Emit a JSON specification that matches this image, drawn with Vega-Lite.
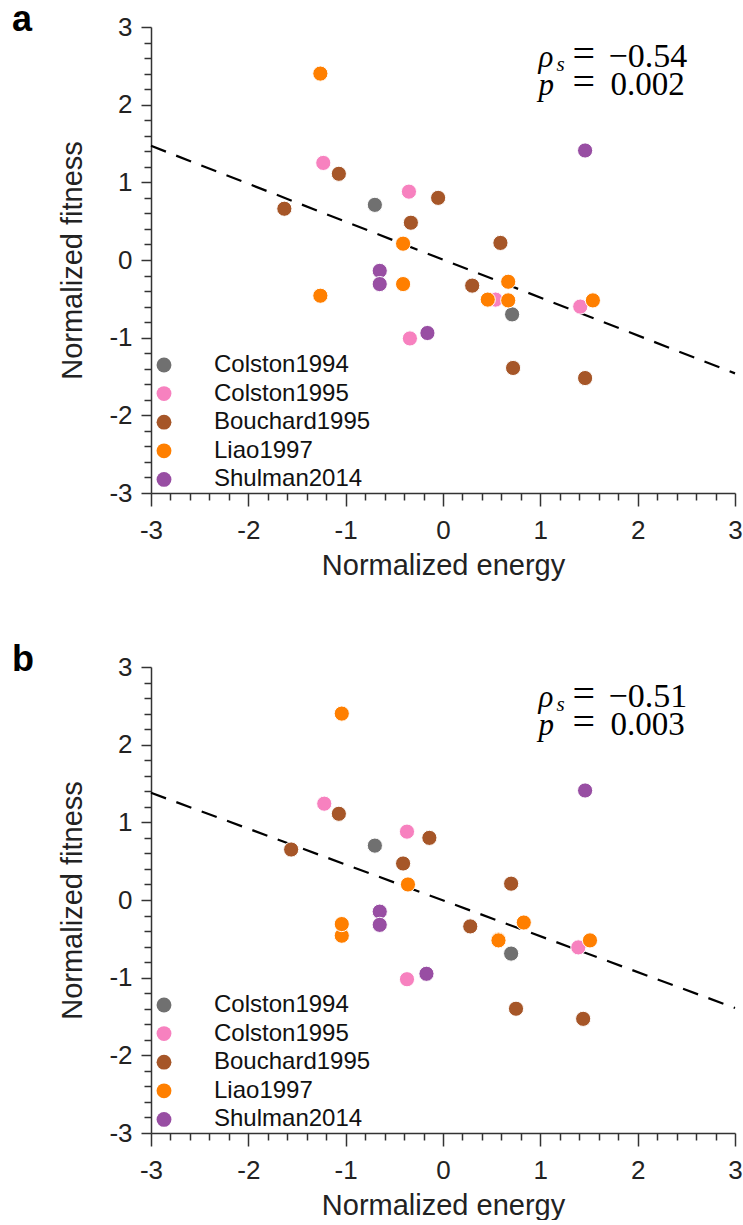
{
  "$schema": "https://vega.github.io/schema/vega-lite/v6.json",
  "background": "white",
  "padding": {"left": 12, "top": 1, "right": 0, "bottom": 0},
  "spacing": 61,
  "config": {
    "view": {"stroke": null},
    "font": "Liberation Sans",
    "axis": {
      "domainColor": "#333333",
      "domainWidth": 1.5,
      "tickColor": "#333333",
      "tickWidth": 1.5,
      "tickSize": 13,
      "grid": false,
      "labelFont": "Liberation Sans",
      "labelFontSize": 26,
      "labelColor": "#222222",
      "titleFont": "Liberation Sans",
      "titleFontSize": 29,
      "titleFontWeight": "normal",
      "titleColor": "#222222",
      "labelFlush": false,
      "labelOverlap": false
    },
    "legend": {
      "labelFont": "Liberation Sans",
      "labelFontSize": 24,
      "labelColor": "#111111",
      "symbolSize": 220,
      "symbolType": "circle",
      "symbolStrokeWidth": 0,
      "rowPadding": 4.6,
      "labelOffset": 38,
      "padding": 0
    },
    "text": {"font": "Liberation Serif", "fontSize": 33, "align": "left", "baseline": "alphabetic", "color": "#000000"}
  },
  "datasets": {
    "pointsA": [
      {"study": "Colston1994", "energy": -0.70, "fitness": 0.71},
      {"study": "Colston1994", "energy": 0.71, "fitness": -0.70},
      {"study": "Colston1995", "energy": -1.23, "fitness": 1.25},
      {"study": "Colston1995", "energy": -0.35, "fitness": 0.88},
      {"study": "Colston1995", "energy": 0.54, "fitness": -0.51},
      {"study": "Colston1995", "energy": 1.41, "fitness": -0.60},
      {"study": "Colston1995", "energy": -0.34, "fitness": -1.01},
      {"study": "Bouchard1995", "energy": -1.63, "fitness": 0.66},
      {"study": "Bouchard1995", "energy": -1.07, "fitness": 1.11},
      {"study": "Bouchard1995", "energy": -0.33, "fitness": 0.48},
      {"study": "Bouchard1995", "energy": -0.05, "fitness": 0.80},
      {"study": "Bouchard1995", "energy": 0.30, "fitness": -0.33},
      {"study": "Bouchard1995", "energy": 0.59, "fitness": 0.22},
      {"study": "Bouchard1995", "energy": 0.72, "fitness": -1.39},
      {"study": "Bouchard1995", "energy": 1.46, "fitness": -1.52},
      {"study": "Liao1997", "energy": -1.26, "fitness": 2.40},
      {"study": "Liao1997", "energy": -1.26, "fitness": -0.46},
      {"study": "Liao1997", "energy": -0.41, "fitness": 0.21},
      {"study": "Liao1997", "energy": -0.41, "fitness": -0.31},
      {"study": "Liao1997", "energy": 0.46, "fitness": -0.51},
      {"study": "Liao1997", "energy": 0.67, "fitness": -0.28},
      {"study": "Liao1997", "energy": 0.67, "fitness": -0.52},
      {"study": "Liao1997", "energy": 1.54, "fitness": -0.52},
      {"study": "Shulman2014", "energy": -0.65, "fitness": -0.14},
      {"study": "Shulman2014", "energy": -0.65, "fitness": -0.31},
      {"study": "Shulman2014", "energy": -0.16, "fitness": -0.94},
      {"study": "Shulman2014", "energy": 1.46, "fitness": 1.41}
    ],
    "pointsB": [
      {"study": "Colston1994", "energy": -0.70, "fitness": 0.70},
      {"study": "Colston1994", "energy": 0.70, "fitness": -0.69},
      {"study": "Colston1995", "energy": -1.22, "fitness": 1.24},
      {"study": "Colston1995", "energy": -0.37, "fitness": 0.88},
      {"study": "Colston1995", "energy": 0.57, "fitness": -0.51},
      {"study": "Colston1995", "energy": 1.39, "fitness": -0.61},
      {"study": "Colston1995", "energy": -0.37, "fitness": -1.02},
      {"study": "Bouchard1995", "energy": -1.56, "fitness": 0.65},
      {"study": "Bouchard1995", "energy": -1.07, "fitness": 1.11},
      {"study": "Bouchard1995", "energy": -0.41, "fitness": 0.47},
      {"study": "Bouchard1995", "energy": -0.14, "fitness": 0.80},
      {"study": "Bouchard1995", "energy": 0.28, "fitness": -0.34},
      {"study": "Bouchard1995", "energy": 0.70, "fitness": 0.21},
      {"study": "Bouchard1995", "energy": 0.75, "fitness": -1.40},
      {"study": "Bouchard1995", "energy": 1.44, "fitness": -1.53},
      {"study": "Liao1997", "energy": -1.04, "fitness": 2.40},
      {"study": "Liao1997", "energy": -1.04, "fitness": -0.46},
      {"study": "Liao1997", "energy": -1.04, "fitness": -0.31},
      {"study": "Liao1997", "energy": -0.36, "fitness": 0.20},
      {"study": "Liao1997", "energy": 0.57, "fitness": -0.51},
      {"study": "Liao1997", "energy": 0.57, "fitness": -0.52},
      {"study": "Liao1997", "energy": 0.83, "fitness": -0.29},
      {"study": "Liao1997", "energy": 1.51, "fitness": -0.52},
      {"study": "Shulman2014", "energy": -0.65, "fitness": -0.15},
      {"study": "Shulman2014", "energy": -0.65, "fitness": -0.32},
      {"study": "Shulman2014", "energy": -0.17, "fitness": -0.95},
      {"study": "Shulman2014", "energy": 1.46, "fitness": 1.41}
    ],
    "fitA": [
      {"energy": -3, "fitness": 1.47},
      {"energy": 3, "fitness": -1.46}
    ],
    "fitB": [
      {"energy": -3, "fitness": 1.38},
      {"energy": 3, "fitness": -1.39}
    ],
    "statsA": [{"rho": "ρ", "sub": "s", "p": "p", "eq": "=", "r": "−0.54", "pv": "0.002"}],
    "statsB": [{"rho": "ρ", "sub": "s", "p": "p", "eq": "=", "r": "−0.51", "pv": "0.003"}]
  },
  "resolve": {"scale": {"color": "independent"}, "legend": {"color": "independent"}},
  "vconcat": [
    {
      "title": {"text": "a", "anchor": "start", "frame": "group", "dx": -139, "fontSize": 36, "fontWeight": "bold", "font": "Liberation Sans", "color": "#000000", "baseline": "alphabetic", "offset": -52.5},
      "width": 584,
      "height": 466,
      "layer": [
        {"data": {"name": "fitA"}, "mark": {"type": "line", "color": "#000000", "strokeWidth": 2.2, "strokeDash": [16, 11]},
          "encoding": {
            "x": {"field": "energy", "type": "quantitative",
              "scale": {"domain": [-3, 3], "nice": false, "zero": false},
              "axis": {"title": "Normalized energy", "titlePadding": 8, "labelPadding": 11,
                "values": [-3, -2.8, -2.6, -2.4, -2.2, -2, -1.8, -1.6, -1.4, -1.2, -1, -0.8, -0.6, -0.4, -0.2, 0, 0.2, 0.4, 0.6, 0.8, 1, 1.2, 1.4, 1.6, 1.8, 2, 2.2, 2.4, 2.6, 2.8, 3],
                "labelExpr": "abs(datum.value - round(datum.value)) < 0.01 ? '' + round(datum.value) : ''",
                "tickSize": {"condition": {"test": "abs(datum.value - round(datum.value)) < 0.01", "value": 13}, "value": 7}}},
            "y": {"field": "fitness", "type": "quantitative",
              "scale": {"domain": [-3, 3], "nice": false, "zero": false},
              "axis": {"title": "Normalized fitness", "titlePadding": 21, "labelPadding": 9,
                "values": [-3, -2.8, -2.6, -2.4, -2.2, -2, -1.8, -1.6, -1.4, -1.2, -1, -0.8, -0.6, -0.4, -0.2, 0, 0.2, 0.4, 0.6, 0.8, 1, 1.2, 1.4, 1.6, 1.8, 2, 2.2, 2.4, 2.6, 2.8, 3],
                "labelExpr": "abs(datum.value - round(datum.value)) < 0.01 ? '' + round(datum.value) : ''",
                "tickSize": {"condition": {"test": "abs(datum.value - round(datum.value)) < 0.01", "value": 10}, "value": 7}}}
          }},
        {"data": {"name": "pointsA"},
          "mark": {"type": "circle", "size": 230, "opacity": 1, "stroke": "white", "strokeWidth": 1},
          "encoding": {
            "x": {"field": "energy", "type": "quantitative",
              "scale": {"domain": [-3, 3], "nice": false, "zero": false},
              "axis": {"title": "Normalized energy", "titlePadding": 8, "labelPadding": 11,
                "values": [-3, -2.8, -2.6, -2.4, -2.2, -2, -1.8, -1.6, -1.4, -1.2, -1, -0.8, -0.6, -0.4, -0.2, 0, 0.2, 0.4, 0.6, 0.8, 1, 1.2, 1.4, 1.6, 1.8, 2, 2.2, 2.4, 2.6, 2.8, 3],
                "labelExpr": "abs(datum.value - round(datum.value)) < 0.01 ? '' + round(datum.value) : ''",
                "tickSize": {"condition": {"test": "abs(datum.value - round(datum.value)) < 0.01", "value": 13}, "value": 7}}},
            "y": {"field": "fitness", "type": "quantitative",
              "scale": {"domain": [-3, 3], "nice": false, "zero": false},
              "axis": {"title": "Normalized fitness", "titlePadding": 21, "labelPadding": 9,
                "values": [-3, -2.8, -2.6, -2.4, -2.2, -2, -1.8, -1.6, -1.4, -1.2, -1, -0.8, -0.6, -0.4, -0.2, 0, 0.2, 0.4, 0.6, 0.8, 1, 1.2, 1.4, 1.6, 1.8, 2, 2.2, 2.4, 2.6, 2.8, 3],
                "labelExpr": "abs(datum.value - round(datum.value)) < 0.01 ? '' + round(datum.value) : ''",
                "tickSize": {"condition": {"test": "abs(datum.value - round(datum.value)) < 0.01", "value": 10}, "value": 7}}},
            "color": {"field": "study", "type": "nominal",
              "scale": {"domain": ["Colston1994", "Colston1995", "Bouchard1995", "Liao1997", "Shulman2014"], "range": ["#707070", "#f781bf", "#a65628", "#ff7f00", "#984ea3"]},
              "legend": {"title": null, "orient": "bottom-left", "offset": 1}}}},
        {"data": {"name": "statsA"},
          "encoding": {
            "x": {"datum": 0.98, "type": "quantitative",
              "scale": {"domain": [-3, 3], "nice": false, "zero": false},
              "axis": {"title": "Normalized energy", "titlePadding": 8, "labelPadding": 11,
                "values": [-3, -2.8, -2.6, -2.4, -2.2, -2, -1.8, -1.6, -1.4, -1.2, -1, -0.8, -0.6, -0.4, -0.2, 0, 0.2, 0.4, 0.6, 0.8, 1, 1.2, 1.4, 1.6, 1.8, 2, 2.2, 2.4, 2.6, 2.8, 3],
                "labelExpr": "abs(datum.value - round(datum.value)) < 0.01 ? '' + round(datum.value) : ''",
                "tickSize": {"condition": {"test": "abs(datum.value - round(datum.value)) < 0.01", "value": 13}, "value": 7}}},
            "y": {"datum": 2.49, "type": "quantitative",
              "scale": {"domain": [-3, 3], "nice": false, "zero": false},
              "axis": {"title": "Normalized fitness", "titlePadding": 21, "labelPadding": 9,
                "values": [-3, -2.8, -2.6, -2.4, -2.2, -2, -1.8, -1.6, -1.4, -1.2, -1, -0.8, -0.6, -0.4, -0.2, 0, 0.2, 0.4, 0.6, 0.8, 1, 1.2, 1.4, 1.6, 1.8, 2, 2.2, 2.4, 2.6, 2.8, 3],
                "labelExpr": "abs(datum.value - round(datum.value)) < 0.01 ? '' + round(datum.value) : ''",
                "tickSize": {"condition": {"test": "abs(datum.value - round(datum.value)) < 0.01", "value": 10}, "value": 7}}}
          },
          "layer": [
            {"mark": {"type": "text", "fontStyle": "italic", "fontSize": 31}, "encoding": {"text": {"field": "rho"}}},
            {"mark": {"type": "text", "fontStyle": "italic", "fontSize": 21}, "encoding": {"x": {"datum": 1.165}, "y": {"datum": 2.43}, "text": {"field": "sub"}}},
            {"mark": {"type": "text", "fontStyle": "italic", "fontSize": 31}, "encoding": {"y": {"datum": 2.125}, "text": {"field": "p"}}},
            {"mark": {"type": "text", "fontSize": 40}, "encoding": {"x": {"datum": 1.33}, "text": {"field": "eq"}}},
            {"mark": {"type": "text", "fontSize": 40}, "encoding": {"x": {"datum": 1.33}, "y": {"datum": 2.125}, "text": {"field": "eq"}}},
            {"mark": {"type": "text", "fontSize": 34}, "encoding": {"x": {"datum": 1.70}, "text": {"field": "r"}}},
            {"mark": {"type": "text"}, "encoding": {"x": {"datum": 1.72}, "y": {"datum": 2.125}, "text": {"field": "pv"}}}
          ]
        }
      ]
    },
    {
      "title": {"text": "b", "anchor": "start", "frame": "group", "dx": -139, "fontSize": 36, "fontWeight": "bold", "font": "Liberation Sans", "color": "#000000", "baseline": "alphabetic", "offset": -52.5},
      "width": 584,
      "height": 466,
      "layer": [
        {"data": {"name": "fitB"}, "mark": {"type": "line", "color": "#000000", "strokeWidth": 2.2, "strokeDash": [16, 11]},
          "encoding": {
            "x": {"field": "energy", "type": "quantitative",
              "scale": {"domain": [-3, 3], "nice": false, "zero": false},
              "axis": {"title": "Normalized energy", "titlePadding": 8, "labelPadding": 11,
                "values": [-3, -2.8, -2.6, -2.4, -2.2, -2, -1.8, -1.6, -1.4, -1.2, -1, -0.8, -0.6, -0.4, -0.2, 0, 0.2, 0.4, 0.6, 0.8, 1, 1.2, 1.4, 1.6, 1.8, 2, 2.2, 2.4, 2.6, 2.8, 3],
                "labelExpr": "abs(datum.value - round(datum.value)) < 0.01 ? '' + round(datum.value) : ''",
                "tickSize": {"condition": {"test": "abs(datum.value - round(datum.value)) < 0.01", "value": 13}, "value": 7}}},
            "y": {"field": "fitness", "type": "quantitative",
              "scale": {"domain": [-3, 3], "nice": false, "zero": false},
              "axis": {"title": "Normalized fitness", "titlePadding": 21, "labelPadding": 9,
                "values": [-3, -2.8, -2.6, -2.4, -2.2, -2, -1.8, -1.6, -1.4, -1.2, -1, -0.8, -0.6, -0.4, -0.2, 0, 0.2, 0.4, 0.6, 0.8, 1, 1.2, 1.4, 1.6, 1.8, 2, 2.2, 2.4, 2.6, 2.8, 3],
                "labelExpr": "abs(datum.value - round(datum.value)) < 0.01 ? '' + round(datum.value) : ''",
                "tickSize": {"condition": {"test": "abs(datum.value - round(datum.value)) < 0.01", "value": 10}, "value": 7}}}
          }},
        {"data": {"name": "pointsB"},
          "mark": {"type": "circle", "size": 230, "opacity": 1, "stroke": "white", "strokeWidth": 1},
          "encoding": {
            "x": {"field": "energy", "type": "quantitative",
              "scale": {"domain": [-3, 3], "nice": false, "zero": false},
              "axis": {"title": "Normalized energy", "titlePadding": 8, "labelPadding": 11,
                "values": [-3, -2.8, -2.6, -2.4, -2.2, -2, -1.8, -1.6, -1.4, -1.2, -1, -0.8, -0.6, -0.4, -0.2, 0, 0.2, 0.4, 0.6, 0.8, 1, 1.2, 1.4, 1.6, 1.8, 2, 2.2, 2.4, 2.6, 2.8, 3],
                "labelExpr": "abs(datum.value - round(datum.value)) < 0.01 ? '' + round(datum.value) : ''",
                "tickSize": {"condition": {"test": "abs(datum.value - round(datum.value)) < 0.01", "value": 13}, "value": 7}}},
            "y": {"field": "fitness", "type": "quantitative",
              "scale": {"domain": [-3, 3], "nice": false, "zero": false},
              "axis": {"title": "Normalized fitness", "titlePadding": 21, "labelPadding": 9,
                "values": [-3, -2.8, -2.6, -2.4, -2.2, -2, -1.8, -1.6, -1.4, -1.2, -1, -0.8, -0.6, -0.4, -0.2, 0, 0.2, 0.4, 0.6, 0.8, 1, 1.2, 1.4, 1.6, 1.8, 2, 2.2, 2.4, 2.6, 2.8, 3],
                "labelExpr": "abs(datum.value - round(datum.value)) < 0.01 ? '' + round(datum.value) : ''",
                "tickSize": {"condition": {"test": "abs(datum.value - round(datum.value)) < 0.01", "value": 10}, "value": 7}}},
            "color": {"field": "study", "type": "nominal",
              "scale": {"domain": ["Colston1994", "Colston1995", "Bouchard1995", "Liao1997", "Shulman2014"], "range": ["#707070", "#f781bf", "#a65628", "#ff7f00", "#984ea3"]},
              "legend": {"title": null, "orient": "bottom-left", "offset": 1}}}},
        {"data": {"name": "statsB"},
          "encoding": {
            "x": {"datum": 0.98, "type": "quantitative",
              "scale": {"domain": [-3, 3], "nice": false, "zero": false},
              "axis": {"title": "Normalized energy", "titlePadding": 8, "labelPadding": 11,
                "values": [-3, -2.8, -2.6, -2.4, -2.2, -2, -1.8, -1.6, -1.4, -1.2, -1, -0.8, -0.6, -0.4, -0.2, 0, 0.2, 0.4, 0.6, 0.8, 1, 1.2, 1.4, 1.6, 1.8, 2, 2.2, 2.4, 2.6, 2.8, 3],
                "labelExpr": "abs(datum.value - round(datum.value)) < 0.01 ? '' + round(datum.value) : ''",
                "tickSize": {"condition": {"test": "abs(datum.value - round(datum.value)) < 0.01", "value": 13}, "value": 7}}},
            "y": {"datum": 2.49, "type": "quantitative",
              "scale": {"domain": [-3, 3], "nice": false, "zero": false},
              "axis": {"title": "Normalized fitness", "titlePadding": 21, "labelPadding": 9,
                "values": [-3, -2.8, -2.6, -2.4, -2.2, -2, -1.8, -1.6, -1.4, -1.2, -1, -0.8, -0.6, -0.4, -0.2, 0, 0.2, 0.4, 0.6, 0.8, 1, 1.2, 1.4, 1.6, 1.8, 2, 2.2, 2.4, 2.6, 2.8, 3],
                "labelExpr": "abs(datum.value - round(datum.value)) < 0.01 ? '' + round(datum.value) : ''",
                "tickSize": {"condition": {"test": "abs(datum.value - round(datum.value)) < 0.01", "value": 10}, "value": 7}}}
          },
          "layer": [
            {"mark": {"type": "text", "fontStyle": "italic", "fontSize": 31}, "encoding": {"text": {"field": "rho"}}},
            {"mark": {"type": "text", "fontStyle": "italic", "fontSize": 21}, "encoding": {"x": {"datum": 1.165}, "y": {"datum": 2.43}, "text": {"field": "sub"}}},
            {"mark": {"type": "text", "fontStyle": "italic", "fontSize": 31}, "encoding": {"y": {"datum": 2.125}, "text": {"field": "p"}}},
            {"mark": {"type": "text", "fontSize": 40}, "encoding": {"x": {"datum": 1.33}, "text": {"field": "eq"}}},
            {"mark": {"type": "text", "fontSize": 40}, "encoding": {"x": {"datum": 1.33}, "y": {"datum": 2.125}, "text": {"field": "eq"}}},
            {"mark": {"type": "text", "fontSize": 34}, "encoding": {"x": {"datum": 1.70}, "text": {"field": "r"}}},
            {"mark": {"type": "text"}, "encoding": {"x": {"datum": 1.72}, "y": {"datum": 2.125}, "text": {"field": "pv"}}}
          ]
        }
      ]
    }
  ]
}
